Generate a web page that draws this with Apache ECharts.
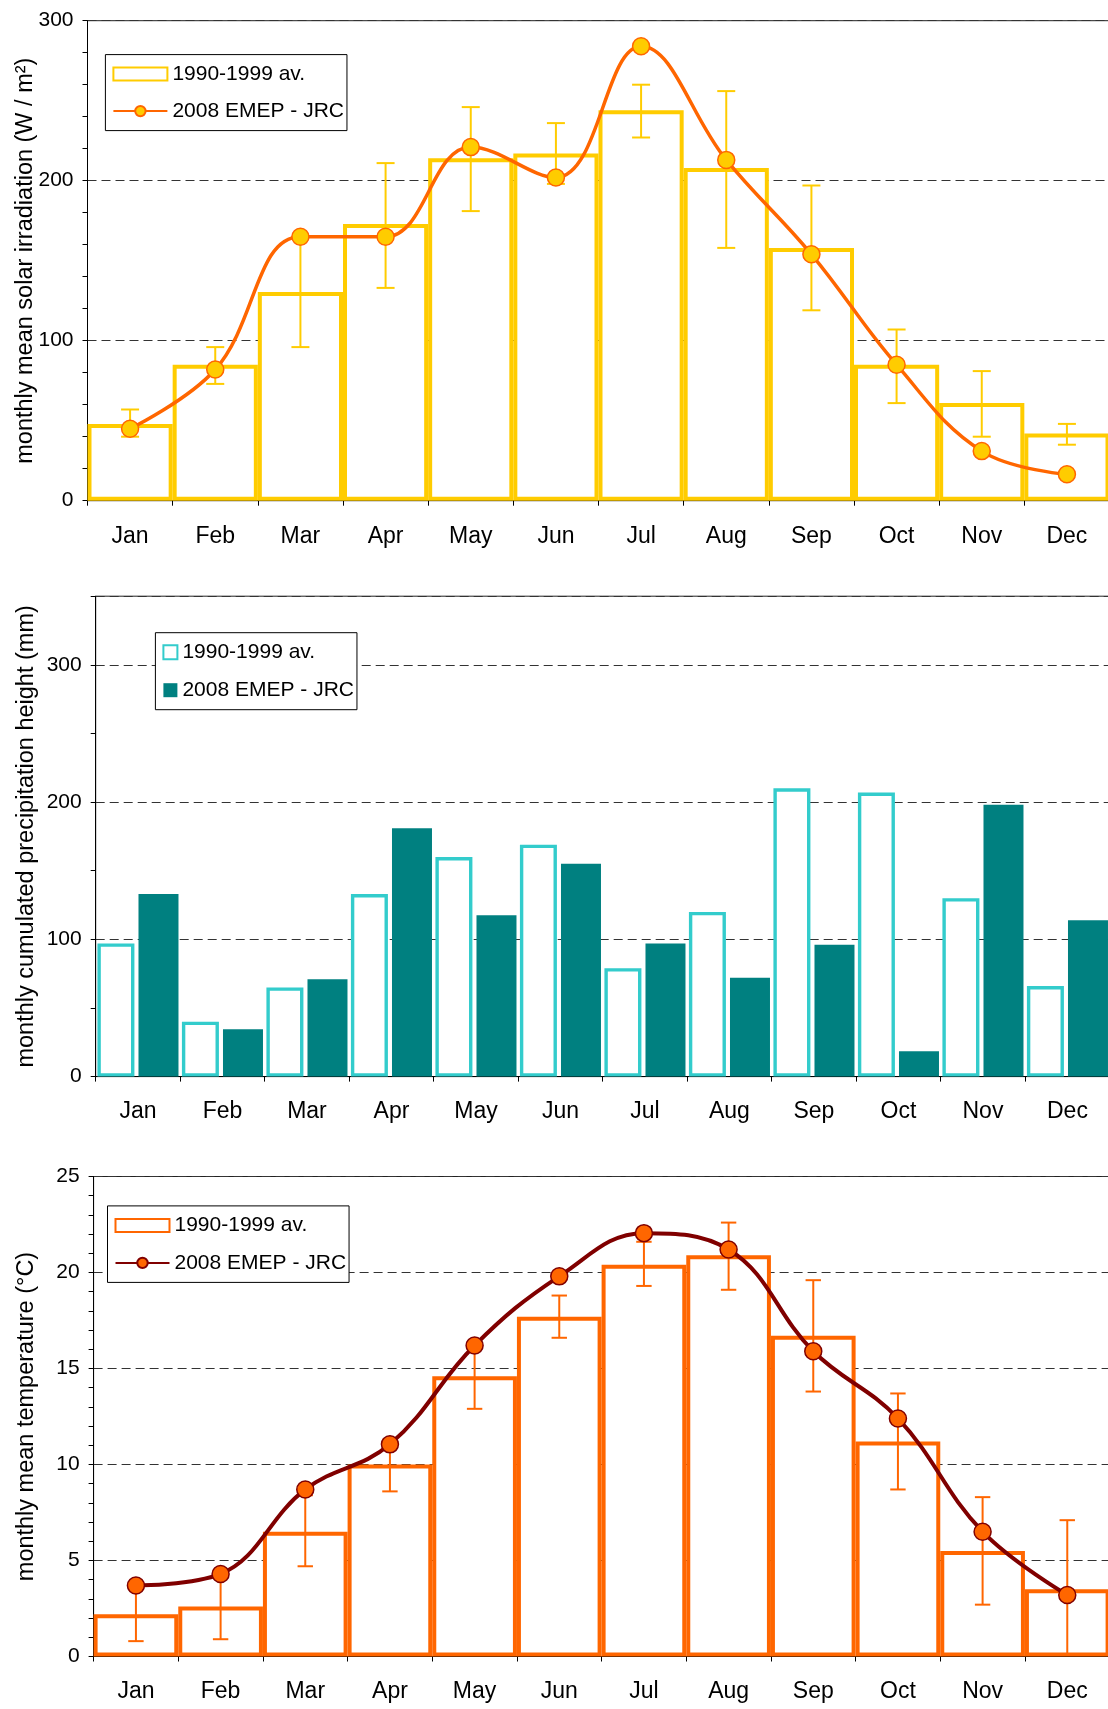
<!DOCTYPE html>
<html><head><meta charset="utf-8">
<script src="https://cdn.jsdelivr.net/npm/echarts@6/dist/echarts.min.js"></script>
<style>html,body{margin:0;padding:0;background:#fff}#c{width:1108px;height:1709px}</style>
</head><body><div id="c"></div>
<script>
const months = ['Jan','Feb','Mar','Apr','May','Jun','Jul','Aug','Sep','Oct','Nov','Dec'];
const legendNames = ['1990-1999 av.', '2008 EMEP - JRC'];
// Panel 1: solar irradiation (W/m2)
const solarAvg     = [48, 85, 130.5, 173, 214, 217, 244, 208, 158, 85, 61, 42];
const solarAvgLow  = [40, 73, 96, 133, 181, 198, 227, 158, 119, 61, 40, 35];
const solarAvgHigh = [57, 96, 165, 211, 246, 236, 260, 256, 197, 107, 81, 48];
const solar2008    = [45, 82, 165, 165, 221, 202, 284, 213, 154, 85, 31, 16.5];
const solarTicks   = {min: 0, max: 300, interval: 100};
// Panel 2: precipitation (mm)
const precipAvg    = [97, 40, 65, 133, 160, 169, 79, 120, 210, 207, 130, 66];
const precip2008   = [133, 34.5, 71, 181, 117.5, 155, 97, 72, 96, 18.5, 198, 114];
const precipTicks  = {min: 0, max: 350, interval: 50, labelStep: 100};
// Panel 3: temperature (°C)
const tempAvg      = [2.2, 2.6, 6.5, 10.0, 14.6, 17.7, 20.4, 20.9, 16.7, 11.2, 5.5, 3.5];
const tempAvgLow   = [0.8, 0.9, 4.7, 8.6, 12.9, 16.6, 19.3, 19.1, 13.8, 8.7, 2.7, 0.1];
const tempAvgHigh  = [3.5, 4.3, 8.4, 11.3, 16.4, 18.8, 21.6, 22.6, 19.6, 13.7, 8.3, 7.1];
const temp2008     = [3.7, 4.3, 8.7, 11.05, 16.2, 19.8, 22.05, 21.2, 15.9, 12.4, 6.5, 3.2];
const tempTicks    = {min: 0, max: 25, interval: 5};

const F = 'Liberation Sans, Arial, sans-serif';
const FS_TICK = 21, FS_CAT = 23, FS_NAME = 23.5, FS_LEG = 21;
const dash = [9, 5];

function errRenderer(color, hw) {
  return function (params, api) {
    const x = api.value(0);
    const lo = api.coord([x, api.value(1)]);
    const hi = api.coord([x, api.value(2)]);
    const st = {stroke: color, lineWidth: 2};
    return {type: 'group', children: [
      {type: 'line', shape: {x1: lo[0], y1: lo[1], x2: hi[0], y2: hi[1]}, style: st},
      {type: 'line', shape: {x1: lo[0] - hw, y1: lo[1], x2: lo[0] + hw, y2: lo[1]}, style: st},
      {type: 'line', shape: {x1: hi[0] - hw, y1: hi[1], x2: hi[0] + hw, y2: hi[1]}, style: st}
    ]};
  };
}

function xAxis(i) {
  return {gridIndex: i, type: 'category', data: months, boundaryGap: true,
    axisLine: {show: true, lineStyle: {color: '#000', width: 1}},
    axisTick: {show: true, length: 5, lineStyle: {color: '#000'}},
    axisLabel: {interval: 0, color: '#000', fontSize: FS_CAT, fontFamily: F, margin: 24},
    splitLine: {show: false}};
}
function yAxisBase(i, name, gap) {
  return {gridIndex: i, type: 'value',
    axisLine: {show: true, lineStyle: {color: '#000', width: 1}},
    axisTick: {show: true, length: 5, lineStyle: {color: '#000'}},
    axisLabel: {color: '#000', fontSize: FS_TICK, fontFamily: F, margin: 14},
    name: name, nameLocation: 'middle', nameGap: gap, nameMoveOverlap: false,
    nameTextStyle: {color: '#000', fontSize: FS_NAME, fontFamily: F}};
}

const y0 = Object.assign(yAxisBase(0, 'monthly mean solar irradiation (W / m²)', 50), solarTicks, {
  minorTick: {show: true, splitNumber: 5, length: 5, lineStyle: {color: '#000'}},
  splitLine: {show: true, lineStyle: {color: '#333', type: dash}}});
const y1 = Object.assign(yAxisBase(1, 'monthly cumulated precipitation height (mm)', 57), {
  min: precipTicks.min, max: precipTicks.max, interval: precipTicks.interval,
  splitLine: {show: false}});
y1.axisLabel.formatter = v => (v % precipTicks.labelStep === 0 ? String(v) : '');
const y1grid = {gridIndex: 1, type: 'value', min: precipTicks.min, max: precipTicks.max,
  interval: precipTicks.labelStep, position: 'right',
  axisLine: {show: false}, axisTick: {show: false}, axisLabel: {show: false},
  splitLine: {show: true, lineStyle: {color: '#333', type: dash}}};
const y2 = Object.assign(yAxisBase(2, 'monthly mean temperature (°C)', 55), tempTicks, {
  minorTick: {show: true, splitNumber: 5, length: 5, lineStyle: {color: '#000'}},
  splitLine: {show: true, lineStyle: {color: '#333', type: dash}}});

function legend(left, top, gap, w, h, suffix, icons) {
  return {orient: 'vertical', left: left, top: top, padding: [9, 3, 9, 7],
    itemGap: gap, itemWidth: w, itemHeight: h,
    borderColor: '#000', borderWidth: 1, backgroundColor: '#fff',
    textStyle: {fontSize: FS_LEG, color: '#000', fontFamily: F},
    selectedMode: false,
    formatter: n => n.split('#')[0],
    data: legendNames.map((n, k) => icons[k] ? {name: n + suffix, icon: icons[k]} : {name: n + suffix})};
}

const gridCommon = {show: true, borderColor: '#222', borderWidth: 1, backgroundColor: 'transparent', containLabel: false, outerBoundsMode: 'none'};

const option = {
  animation: false,
  backgroundColor: '#fff',
  textStyle: {fontFamily: F},
  grid: [
    Object.assign({left: 87.5, top: 20.7, width: 1022, height: 480}, gridCommon),
    Object.assign({left: 95.7, top: 596.2, width: 1014, height: 480.4}, gridCommon),
    Object.assign({left: 93.6, top: 1176.5, width: 1016, height: 480}, gridCommon)
  ],
  xAxis: [xAxis(0), xAxis(1), xAxis(2)],
  yAxis: [y0, y1, y2, y1grid],
  legend: [
    legend(105.4, 54.6, 16, 54, 13, '#1', ['rect', null]),
    legend(155.4, 632.7, 17, 14, 14, '#2', ['rect', 'rect']),
    legend(107.5, 1205.9, 16.5, 54, 13, '#3', ['rect', null])
  ],
  series: [
    // Panel 1
    {name: legendNames[0] + '#1', type: 'bar', xAxisIndex: 0, yAxisIndex: 0, data: solarAvg,
      barWidth: '100%', barCategoryGap: '0%', z: 2, silent: true,
      itemStyle: {color: '#fff', borderColor: '#FFCC00', borderWidth: 4}},
    {type: 'custom', xAxisIndex: 0, yAxisIndex: 0, z: 3, silent: true,
      data: months.map((m, i) => [i, solarAvgLow[i], solarAvgHigh[i]]),
      encode: {x: 0, y: [1, 2]}, renderItem: errRenderer('#FFCC00', 9)},
    {name: legendNames[1] + '#1', type: 'line', xAxisIndex: 0, yAxisIndex: 0, data: solar2008,
      smooth: 0.4, symbol: 'circle', symbolSize: 17, z: 4, silent: true,
      lineStyle: {color: '#FF6600', width: 3.5},
      itemStyle: {color: '#FFCC00', borderColor: '#FF6600', borderWidth: 1.5}},
    // Panel 2
    {name: legendNames[0] + '#2', type: 'bar', xAxisIndex: 1, yAxisIndex: 1, data: precipAvg,
      barWidth: 37, barGap: '11%', barCategoryGap: '0%', z: 2, silent: true,
      itemStyle: {color: '#fff', borderColor: '#33CCCC', borderWidth: 3.4}},
    {name: legendNames[1] + '#2', type: 'bar', xAxisIndex: 1, yAxisIndex: 1, data: precip2008,
      barWidth: 40, barGap: '11%', barCategoryGap: '0%', z: 2, silent: true,
      itemStyle: {color: '#008080'}},
    // Panel 3
    {name: legendNames[0] + '#3', type: 'bar', xAxisIndex: 2, yAxisIndex: 2, data: tempAvg,
      barWidth: '100%', barCategoryGap: '0%', z: 2, silent: true,
      itemStyle: {color: '#fff', borderColor: '#FF6600', borderWidth: 4}},
    {type: 'custom', xAxisIndex: 2, yAxisIndex: 2, z: 3, silent: true,
      data: months.map((m, i) => [i, tempAvgLow[i], tempAvgHigh[i]]),
      encode: {x: 0, y: [1, 2]}, renderItem: errRenderer('#FF6600', 7.7)},
    {name: legendNames[1] + '#3', type: 'line', xAxisIndex: 2, yAxisIndex: 2, data: temp2008,
      smooth: 0.4, symbol: 'circle', symbolSize: 17, z: 4, silent: true,
      lineStyle: {color: '#800000', width: 4},
      itemStyle: {color: '#FF6600', borderColor: '#800000', borderWidth: 1.5}}
  ]
};
const chart = echarts.init(document.getElementById('c'), null, {renderer: 'canvas'});
chart.setOption(option);
</script></body></html>
